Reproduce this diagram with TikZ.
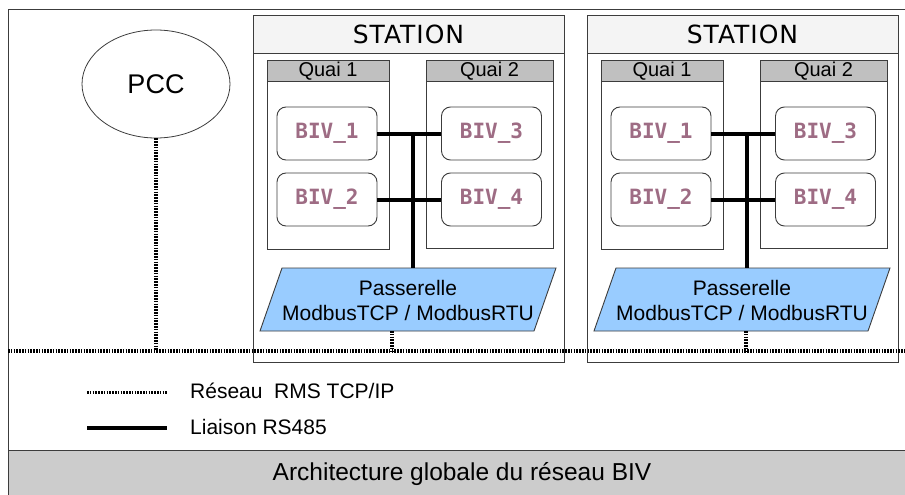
\documentclass[tikz,border=0pt]{standalone}
\usepackage{fontspec}
\setmainfont{Liberation Sans}
\newfontfamily\stationfont[LetterSpace=4]{DejaVu Sans}
\newfontfamily\bivfont{DejaVu Sans Mono}
\usetikzlibrary{shapes.geometric}
\definecolor{frame}{RGB}{60,60,60}
\definecolor{titlefill}{RGB}{244,244,244}
\definecolor{quaifill}{RGB}{192,192,192}
\definecolor{bandfill}{RGB}{204,204,204}
\definecolor{passfill}{RGB}{153,204,255}
\definecolor{bivtext}{RGB}{158,108,132}
\tikzset{
  box/.style={draw=frame, line width=0.9pt},
  bivbox/.style={draw=frame, line width=0.9pt, rounded corners=9pt, fill=white,
    minimum width=100pt, minimum height=53pt, inner sep=0pt,
    font=\bivfont\bfseries\fontsize{21}{21}\selectfont, text=bivtext},
  bus/.style={line width=4pt, black},
  net/.style={line width=4pt, black, dash pattern=on 1.6pt off 1.2pt},
  drop/.style={line width=3.5pt, black, dash pattern=on 1.6pt off 1.2pt},
  label/.style={font=\fontsize{20}{22}\selectfont, inner sep=0pt},
}
\begin{document}
\begin{tikzpicture}[x=1pt,y=-1pt]
\useasboundingbox (0,0) rectangle (905,495);
% outer frame and caption band
\draw[box] (8,9) rectangle (915,450);
\draw[box, fill=bandfill] (8,450) rectangle (915,505);
\node[font=\fontsize{24.5}{26}\selectfont] (caption) at (462,474) {Architecture globale du réseau BIV};

% network line
\coordinate (netL) at (8,351);
\coordinate (netR) at (905,351);

% PCC
\node[draw=frame, line width=0.8pt, ellipse, minimum width=148pt, minimum height=108pt,
      font=\fontsize{27}{27}\selectfont] (pcc) at (156,84) {PCC};
\draw[drop] (pcc.south) -- (pcc.south |- netL);

\foreach \s/\dx/\dropx in {A/0/392, B/334/746} {
  \begin{scope}[xshift=\dx]
    % station frame
    \draw[box, fill=white] (253,15) rectangle (564,362);
    \draw[box, fill=titlefill] (253,15) rectangle (564,53);
    \node[font=\stationfont\fontsize{25}{25}\selectfont] (title\s) at (408.5,34) {STATION};
    % quais
    \draw[box, fill=white] (267,60) rectangle (389,249);
    \draw[box, fill=quaifill] (267,60) rectangle (389,81);
    \node[label] (qa\s) at (328,71) {Quai 1};
    \draw[box, fill=white] (426,60) rectangle (553,248);
    \draw[box, fill=quaifill] (426,60) rectangle (553,81);
    \node[label] (qb\s) at (489.5,71) {Quai 2};
    % BIV
    \node[bivbox] (b1\s) at (327,133.5) {BIV\_1};
    \node[bivbox] (b2\s) at (327,199.5) {BIV\_2};
    \node[bivbox] (b3\s) at (491.5,133.5) {BIV\_3};
    \node[bivbox] (b4\s) at (491.5,199.5) {BIV\_4};
    % passerelle
    \draw[draw=frame, line width=0.9pt, fill=passfill] (282,268) -- (556,268) -- (534,331) -- (260,331) -- cycle;
    \node[label, font=\fontsize{21}{25}\selectfont, align=center] (pass\s) at (408,300) {Passerelle\\ModbusTCP / ModbusRTU};
    \coordinate (ptop\s) at (413,268);
    % bus
    \coordinate (j1\s) at (413,133.5);
    \draw[bus] (b1\s.east) -- (b3\s.west);
    \draw[bus] (b2\s.east) -- (b4\s.west);
    \draw[bus] (j1\s) -- (ptop\s);
  \end{scope}
  \coordinate (pb\s) at (\dropx,331);
  \draw[drop] (pb\s) -- (pb\s |- netL);
}
\draw[net] (netL) -- (netR);

% legend
\coordinate (l1a) at (87,392);
\coordinate (l1b) at (167,392);
\coordinate (l2a) at (87,428);
\coordinate (l2b) at (167,428);
\draw[line width=3pt, dash pattern=on 1.6pt off 1.2pt] (l1a) -- (l1b);
\draw[line width=4pt] (l2a) -- (l2b);
\node[label, font=\fontsize{21}{21}\selectfont, anchor=west] (leg1) at (190,391) {Réseau\ \ RMS TCP/IP};
\node[label, font=\fontsize{21}{21}\selectfont, anchor=west] (leg2) at (190,427) {Liaison RS485};
\end{tikzpicture}
\end{document}
